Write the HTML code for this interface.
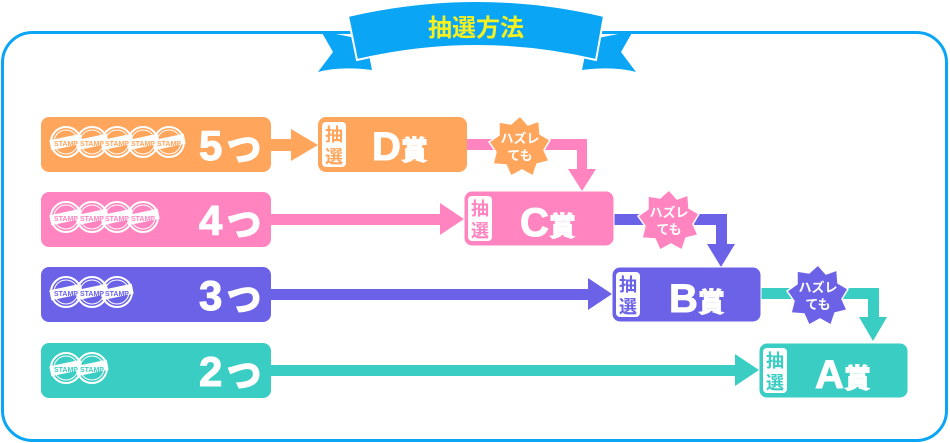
<!DOCTYPE html>
<html><head><meta charset="utf-8"><style>
html,body{margin:0;padding:0;background:#fff;}
svg{display:block}
text{font-family:"Liberation Sans","Noto Sans CJK JP",sans-serif;font-weight:bold}
</style></head><body>
<svg width="950" height="443" viewBox="0 0 950 443" xmlns="http://www.w3.org/2000/svg">
<defs>
<g id="stamp">
<circle r="15" fill="none" stroke="#fff" stroke-width="2"/>
<circle r="12" fill="none" stroke="#fff" stroke-width="1"/>
<rect x="-16" y="-5" width="32" height="10" fill="#fff" transform="rotate(-12)"/>
</g>
</defs>
<rect x="2.5" y="32.5" width="944" height="408" rx="30" fill="#fff" stroke="#0aa5f5" stroke-width="3"/>
<!-- banner -->
<path d="M321 31 L333 52 L318 72 Q340 66 372 70 L366 40 Z" fill="#0aa5f5"/>
<path d="M633 31 L621 52 L636 72 Q614 66 582 70 L588 40 Z" fill="#0aa5f5"/>
<path d="M348 16 Q477 -14 604 16 L596 60 Q477 32 357 60 Z" fill="#0aa5f5" stroke="#fff" stroke-width="2"/>
<text x="476" y="36" font-size="24" fill="#f5f020" text-anchor="middle">抽選方法</text>

<!-- connectors -->
<path d="M467 139 V150 H577 V169 H568 L582 191 L596 169 H587 V139 Z" fill="#ff84bf"/>
<path d="M614 214 V225 H716 V244 H707 L721 267 L735 244 H727 V214 Z" fill="#6b62e8"/>
<path d="M761 288 V299 H868 V317 H859 L873 341 L887 317 H879 V288 Z" fill="#3acdc3"/>
<!-- row arrows -->
<path d="M271 139 H291 V129 L318 145 L291 161 V151 H271 Z" fill="#ffa55c"/>
<path d="M271 214 H440 V203 L464 219 L440 235 V225 H271 Z" fill="#ff84bf"/>
<path d="M271 289 H588 V278 L612 294 L588 310 V300 H271 Z" fill="#6b62e8"/>
<path d="M271 365 H735 V354 L759 370 L735 386 V376 H271 Z" fill="#3acdc3"/>

<!-- row boxes -->
<rect x="41" y="117" width="230" height="55" rx="8" fill="#ffa55c"/>
<rect x="41" y="192" width="230" height="55" rx="8" fill="#ff84bf"/>
<rect x="41" y="267" width="230" height="55" rx="8" fill="#6b62e8"/>
<rect x="41" y="343" width="230" height="55" rx="8" fill="#3acdc3"/>
<g><use href="#stamp" x="66" y="142"/><use href="#stamp" x="92" y="142"/><use href="#stamp" x="117" y="142"/><use href="#stamp" x="143" y="142"/><use href="#stamp" x="169" y="142"/></g>
<g><use href="#stamp" x="66" y="217"/><use href="#stamp" x="92" y="217"/><use href="#stamp" x="117" y="217"/><use href="#stamp" x="143" y="217"/></g>
<g><use href="#stamp" x="66" y="292"/><use href="#stamp" x="92" y="292"/><use href="#stamp" x="117" y="292"/></g>
<g><use href="#stamp" x="66" y="368"/><use href="#stamp" x="92" y="368"/></g>
<g font-size="7" fill="#ffa55c" text-anchor="middle"><text x="66" y="146">STAMP</text><text x="92" y="146">STAMP</text><text x="117" y="146">STAMP</text><text x="143" y="146">STAMP</text><text x="169" y="146">STAMP</text></g>
<g font-size="7" fill="#ff84bf" text-anchor="middle"><text x="66" y="221">STAMP</text><text x="92" y="221">STAMP</text><text x="117" y="221">STAMP</text><text x="143" y="221">STAMP</text></g>
<g font-size="7" fill="#6b62e8" text-anchor="middle"><text x="66" y="296">STAMP</text><text x="92" y="296">STAMP</text><text x="117" y="296">STAMP</text></g>
<g font-size="7" fill="#3acdc3" text-anchor="middle"><text x="66" y="372">STAMP</text><text x="92" y="372">STAMP</text></g>
<g font-size="42" fill="#fff" stroke="#fff" stroke-width="1"><text x="199" y="160">5っ</text><text x="199" y="235">4っ</text><text x="199" y="310">3っ</text><text x="199" y="386">2っ</text></g>

<!-- prize boxes -->
<rect x="318" y="117" width="149" height="55" rx="8" fill="#ffa55c"/>
<rect x="464" y="191" width="150" height="55" rx="8" fill="#ff84bf" stroke="#fff" stroke-width="1"/>
<rect x="612" y="267" width="149" height="55" rx="8" fill="#6b62e8" stroke="#fff" stroke-width="1"/>
<rect x="759" y="343" width="149" height="55" rx="8" fill="#3acdc3" stroke="#fff" stroke-width="1"/>
<rect x="322" y="122" width="24" height="45" rx="4" fill="#fff"/>
<rect x="468" y="196" width="24" height="45" rx="4" fill="#fff"/>
<rect x="616" y="272" width="24" height="45" rx="4" fill="#fff"/>
<rect x="763" y="348" width="24" height="45" rx="4" fill="#fff"/>
<g font-size="18" text-anchor="middle">
<text x="334" y="141" fill="#ffa55c">抽</text><text x="334" y="163" fill="#ffa55c">選</text>
<text x="480" y="215" fill="#ff84bf">抽</text><text x="480" y="237" fill="#ff84bf">選</text>
<text x="628" y="291" fill="#6b62e8">抽</text><text x="628" y="313" fill="#6b62e8">選</text>
<text x="775" y="367" fill="#3acdc3">抽</text><text x="775" y="389" fill="#3acdc3">選</text>
</g>
<g fill="#fff" stroke="#fff" stroke-width="1"><text x="372" y="160" font-size="40">D<tspan font-size="27">賞</tspan></text>
<text x="520" y="236" font-size="40">C<tspan font-size="27">賞</tspan></text>
<text x="669" y="312" font-size="40">B<tspan font-size="27">賞</tspan></text>
<text x="815" y="388" font-size="40">A<tspan font-size="27">賞</tspan></text></g>

<!-- starbursts -->
<polygon points="0,-30 8,-21 19,-25 20,-12 30,-6 24,4 29,15 17,18 13,30 2,24 -9,30 -14,19 -27,18 -24,6 -31,-4 -21,-11 -21,-24 -9,-22" fill="#ffa55c" stroke="#fff" stroke-width="1.5" transform="translate(520,146)"/>
<polygon points="0,-30 8,-21 19,-25 20,-12 30,-6 24,4 29,15 17,18 13,30 2,24 -9,30 -14,19 -27,18 -24,6 -31,-4 -21,-11 -21,-24 -9,-22" fill="#ff84bf" stroke="#fff" stroke-width="1.5" transform="translate(669,220)"/>
<polygon points="0,-30 8,-21 19,-25 20,-12 30,-6 24,4 29,15 17,18 13,30 2,24 -9,30 -14,19 -27,18 -24,6 -31,-4 -21,-11 -21,-24 -9,-22" fill="#6b62e8" stroke="#fff" stroke-width="1.5" transform="translate(818,295)"/>
<g font-size="13" fill="#fff" text-anchor="middle">
<text x="520" y="143">ハズレ</text><text x="520" y="160">ても</text>
<text x="669" y="217">ハズレ</text><text x="669" y="234">ても</text>
<text x="818" y="292">ハズレ</text><text x="818" y="309">ても</text>
</g>
</svg>
</body></html>
